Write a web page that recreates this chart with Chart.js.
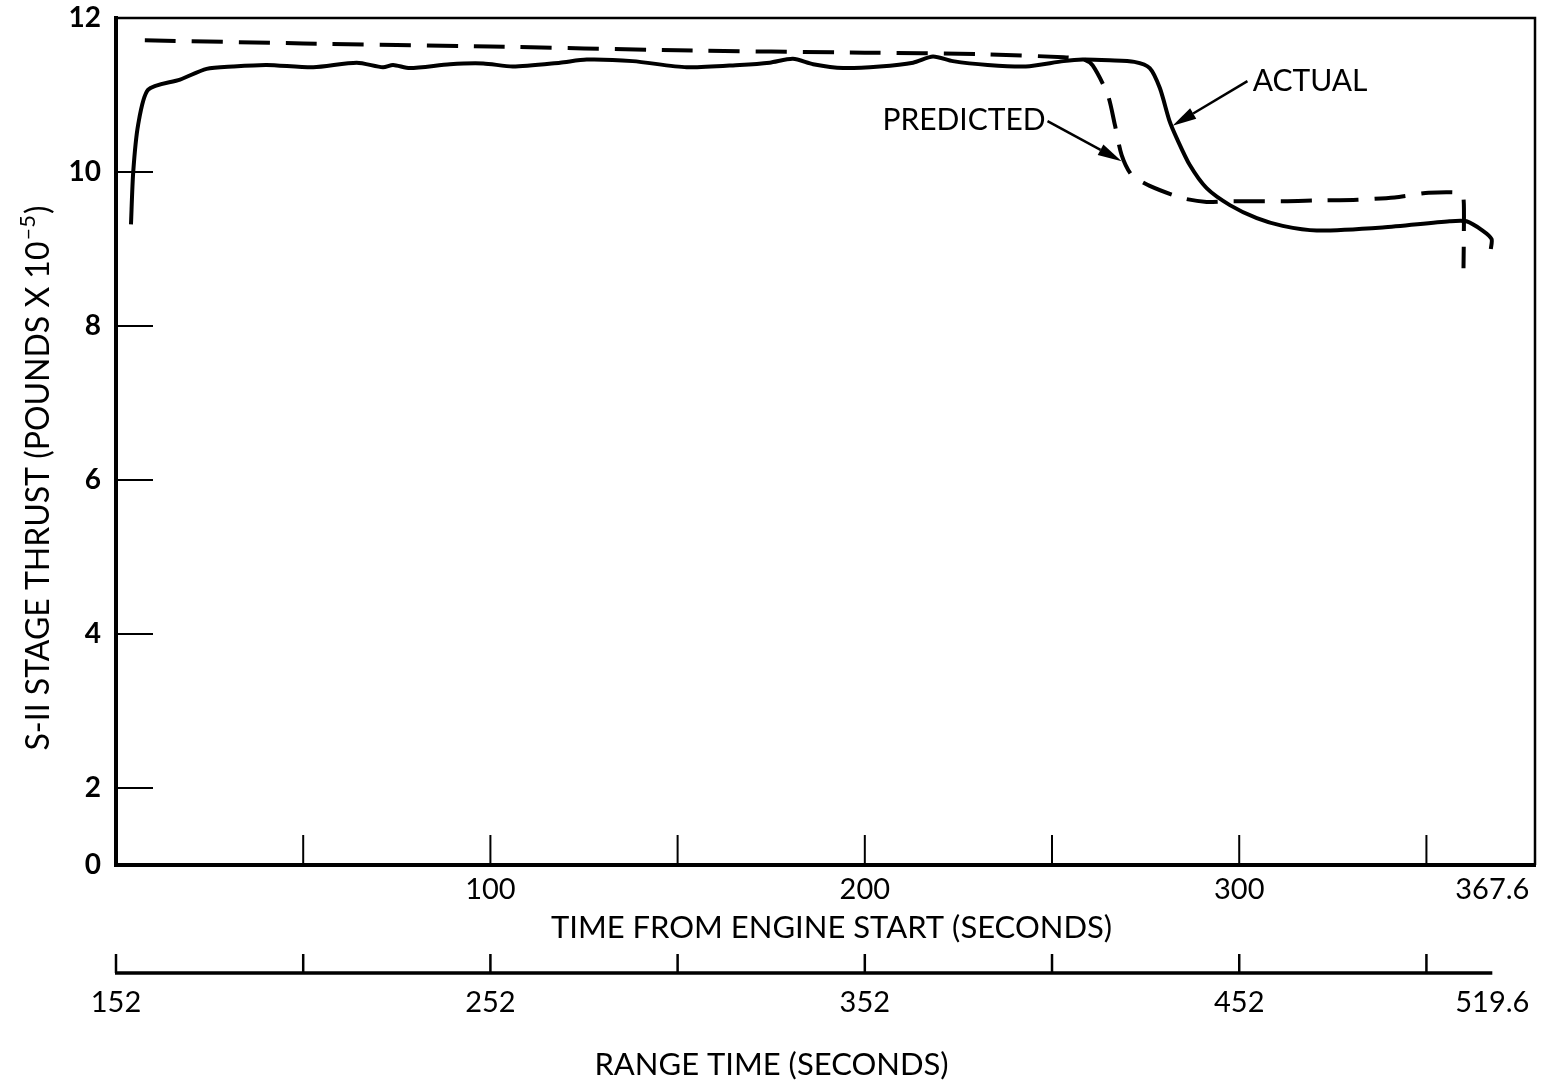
<!DOCTYPE html>
<html><head><meta charset="utf-8">
<script src="https://cdn.jsdelivr.net/npm/chart.js@4/dist/chart.umd.min.js"></script>
<style>html,body{margin:0;padding:0;background:#fff}canvas{display:block}</style>
</head><body>
<canvas id="c" width="1543" height="1083"></canvas>
<script>
// ---- data (thrust in pounds x 10^-5, time in seconds from engine start) ----
const actualTime = [4.0, 4.6, 5.9, 8.6, 17.1, 24.2, 31.3, 40.2, 52.7, 64.3, 71.3, 74.0, 78.5, 89.2, 98.1, 106.0, 118.6, 125.7, 138.0, 152.4, 166.6, 174.6, 180.8, 186.2, 194.2, 204.0, 212.9, 218.2, 223.5, 232.8, 243.0, 253.1, 258.2, 265.4, 272.0, 276.1, 278.8, 281.4, 283.3, 286.8, 291.3, 297.5, 304.7, 311.6, 320.7, 338.3, 356.2, 360.7, 365.0, 367.4, 367.2];
const actualThrust = [9.32, 10.0, 10.61, 11.07, 11.20, 11.34, 11.37, 11.39, 11.36, 11.42, 11.36, 11.39, 11.35, 11.40, 11.41, 11.37, 11.42, 11.46, 11.44, 11.36, 11.39, 11.42, 11.47, 11.40, 11.35, 11.37, 11.42, 11.50, 11.44, 11.39, 11.37, 11.44, 11.46, 11.45, 11.43, 11.35, 11.09, 10.66, 10.44, 10.09, 9.79, 9.57, 9.40, 9.30, 9.24, 9.28, 9.36, 9.36, 9.24, 9.13, 9.00];
const predictedTime = [7.7, 50, 100, 150, 200, 230.7, 253.1, 258.5, 260.9, 264.9, 266.8, 268.6, 271.3, 276.1, 284.9, 291.3, 297.0, 312.0, 320.7, 331.6, 341.5, 350.6, 358.9, 359.9, 360.0, 359.9];
const predictedThrust = [11.71, 11.67, 11.63, 11.58, 11.55, 11.53, 11.49, 11.46, 11.38, 11.00, 10.61, 10.22, 9.96, 9.82, 9.66, 9.61, 9.62, 9.62, 9.63, 9.64, 9.67, 9.73, 9.73, 9.66, 9.22, 8.75];

const engineTickValues = [100, 200, 300, 367.6];
const engineTickLabels = ['100', '200', '300', '367.6'];
const engineTickMarks = [50, 100, 150, 200, 250, 300, 350];
const rangeTickValues = [152, 252, 352, 452, 519.6];
const rangeTickLabels = ['152', '252', '352', '452', '519.6'];
const rangeTickMarks = [152, 202, 252, 302, 352, 402, 452, 502];
const thrustTickValues = [1, 2, 4, 6, 8, 10, 12];
const thrustTickLabels = ['0', '2', '4', '6', '8', '10', '12'];
const thrustTickMarks = [2, 4, 6, 8, 10];
const rangeOffset = 152;
const engineMax = 379;
const rangeEnd = 519.6;

const FONT = 'Lato, "Open Sans", sans-serif';

const notes = [
  {text: 'ACTUAL', tx: 303.6, ty: 11.18, align: 'left', from: [302.2, 11.18], to: [282.2, 10.60]},
  {text: 'PREDICTED', tx: 248.3, ty: 10.67, align: 'right', from: [248.8, 10.66], to: [268.6, 10.14]}
];

const decor = {
  id: 'decor',
  afterDraw(chart) {
    const {ctx, chartArea: a, scales} = chart;
    const x = scales.x, y = scales.y, x2 = scales.x2;
    const line = (x1, y1, x3, y3) => { ctx.beginPath(); ctx.moveTo(x1, y1); ctx.lineTo(x3, y3); ctx.stroke(); };
    ctx.save();
    ctx.strokeStyle = '#000';
    ctx.fillStyle = '#000';
    // top + right frame
    ctx.lineWidth = 2.5;
    ctx.beginPath(); ctx.moveTo(a.left, a.top); ctx.lineTo(a.right, a.top); ctx.lineTo(a.right, a.bottom); ctx.stroke();
    // inner tick marks
    ctx.lineWidth = 2;
    thrustTickMarks.forEach(v => { const p = y.getPixelForValue(v); line(a.left, p, a.left + 37, p); });
    engineTickMarks.forEach(v => { const p = x.getPixelForValue(v); line(p, a.bottom, p, a.bottom - 30); });
    // range-time axis
    const ly = x2.top + 23;
    ctx.lineWidth = 3.5;
    line(x2.getPixelForValue(rangeOffset) - 1, ly, x2.getPixelForValue(rangeEnd), ly);
    ctx.lineWidth = 2.5;
    rangeTickMarks.forEach(v => { const p = x2.getPixelForValue(v); line(p, ly, p, ly - 19); });
    // titles
    ctx.font = '31px ' + FONT;
    ctx.textAlign = 'center'; ctx.textBaseline = 'middle';
    const cx = (a.left + a.right) / 2;
    ctx.fillText('TIME FROM ENGINE START (SECONDS)', cx + 6, a.bottom + 63);
    ctx.fillText('RANGE TIME (SECONDS)', cx - 54, x2.top + 115);
    // y title with superscript
    ctx.save();
    ctx.translate(39, 479);
    ctx.rotate(-Math.PI / 2);
    const main = 'S-II STAGE THRUST (POUNDS X 10';
    ctx.font = '32px ' + FONT;
    const w1 = ctx.measureText(main).width;
    ctx.font = '22px ' + FONT;
    const sup = '\u2013' + '5';
    const w2 = ctx.measureText(sup).width;
    ctx.font = '32px ' + FONT;
    const w3 = ctx.measureText(')').width;
    let sx = -(w1 + w2 + w3) / 2;
    ctx.textAlign = 'left';
    ctx.fillText(main, sx, 0);
    ctx.font = '22px ' + FONT;
    ctx.fillText(sup, sx + w1 + 1, -11);
    ctx.font = '32px ' + FONT;
    ctx.fillText(')', sx + w1 + w2 + 2, 0);
    ctx.restore();
    // annotations with arrows
    notes.forEach(n => {
      ctx.font = '30px ' + FONT;
      ctx.textAlign = n.align; ctx.textBaseline = 'middle';
      ctx.fillText(n.text, x.getPixelForValue(n.tx), y.getPixelForValue(n.ty));
      const fx = x.getPixelForValue(n.from[0]), fy = y.getPixelForValue(n.from[1]);
      const tx = x.getPixelForValue(n.to[0]), ty = y.getPixelForValue(n.to[1]);
      ctx.lineWidth = 2.5;
      const ang = Math.atan2(ty - fy, tx - fx);
      const L = 24, W = 6;
      const bx = tx - L * Math.cos(ang), by = ty - L * Math.sin(ang);
      line(fx, fy, bx, by);
      ctx.beginPath();
      ctx.moveTo(tx, ty);
      ctx.lineTo(bx + W * Math.sin(ang), by - W * Math.cos(ang));
      ctx.lineTo(bx - W * Math.sin(ang), by + W * Math.cos(ang));
      ctx.closePath(); ctx.fill();
    });
    ctx.restore();
  }
};

const toPts = (xs, ys) => xs.map((t, i) => ({x: t, y: ys[i]}));
const noPadH = s => { s.paddingLeft = 0; s.paddingRight = 0; };

new Chart(document.getElementById('c'), {
  type: 'line',
  data: {
    datasets: [
      {label: 'ACTUAL', data: toPts(actualTime, actualThrust), borderColor: '#000', borderWidth: 4, pointRadius: 0, tension: 0.25, fill: false},
      {label: 'PREDICTED', data: toPts(predictedTime, predictedThrust), borderColor: '#000', borderWidth: 4, borderDash: [31, 16], pointRadius: 0, tension: 0.25, fill: false}
    ]
  },
  options: {
    responsive: false,
    animation: false,
    devicePixelRatio: 1,
    layout: {padding: {top: 18, right: 8, left: 0, bottom: 0}},
    plugins: {legend: {display: false}, tooltip: {enabled: false}},
    scales: {
      x: {
        type: 'linear', position: 'bottom', min: 0, max: engineMax, weight: 0,
        grid: {display: false, drawTicks: false},
        border: {display: true, color: '#000', width: 4},
        afterBuildTicks: s => { s.ticks = engineTickValues.map(v => ({value: v})); },
        afterFit: s => { s.height = 85; noPadH(s); },
        ticks: {color: '#000', font: {family: FONT, size: 29}, padding: 7, maxRotation: 0, autoSkip: false,
          callback: v => engineTickLabels[engineTickValues.indexOf(v)]}
      },
      x2: {
        type: 'linear', position: 'bottom', min: rangeOffset, max: rangeOffset + engineMax, weight: 1,
        grid: {display: false, drawTicks: false},
        border: {display: false},
        afterBuildTicks: s => { s.ticks = rangeTickValues.map(v => ({value: v})); },
        afterFit: s => { s.height = 133; noPadH(s); },
        ticks: {color: '#000', font: {family: FONT, size: 29}, padding: 35, maxRotation: 0, autoSkip: false,
          callback: v => rangeTickLabels[rangeTickValues.indexOf(v)]}
      },
      y: {
        type: 'linear', position: 'left', min: 1, max: 12,
        grid: {display: false, drawTicks: false},
        border: {display: true, color: '#000', width: 4},
        afterBuildTicks: s => { s.ticks = thrustTickValues.map(v => ({value: v})); },
        afterFit: s => { s.width = 116; s.paddingTop = 0; s.paddingBottom = 0; },
        ticks: {color: '#000', font: {family: FONT, size: 28, weight: 'bold'}, padding: 15,
          callback: v => thrustTickLabels[thrustTickValues.indexOf(v)]}
      }
    }
  },
  plugins: [decor]
});
</script>
</body></html>
